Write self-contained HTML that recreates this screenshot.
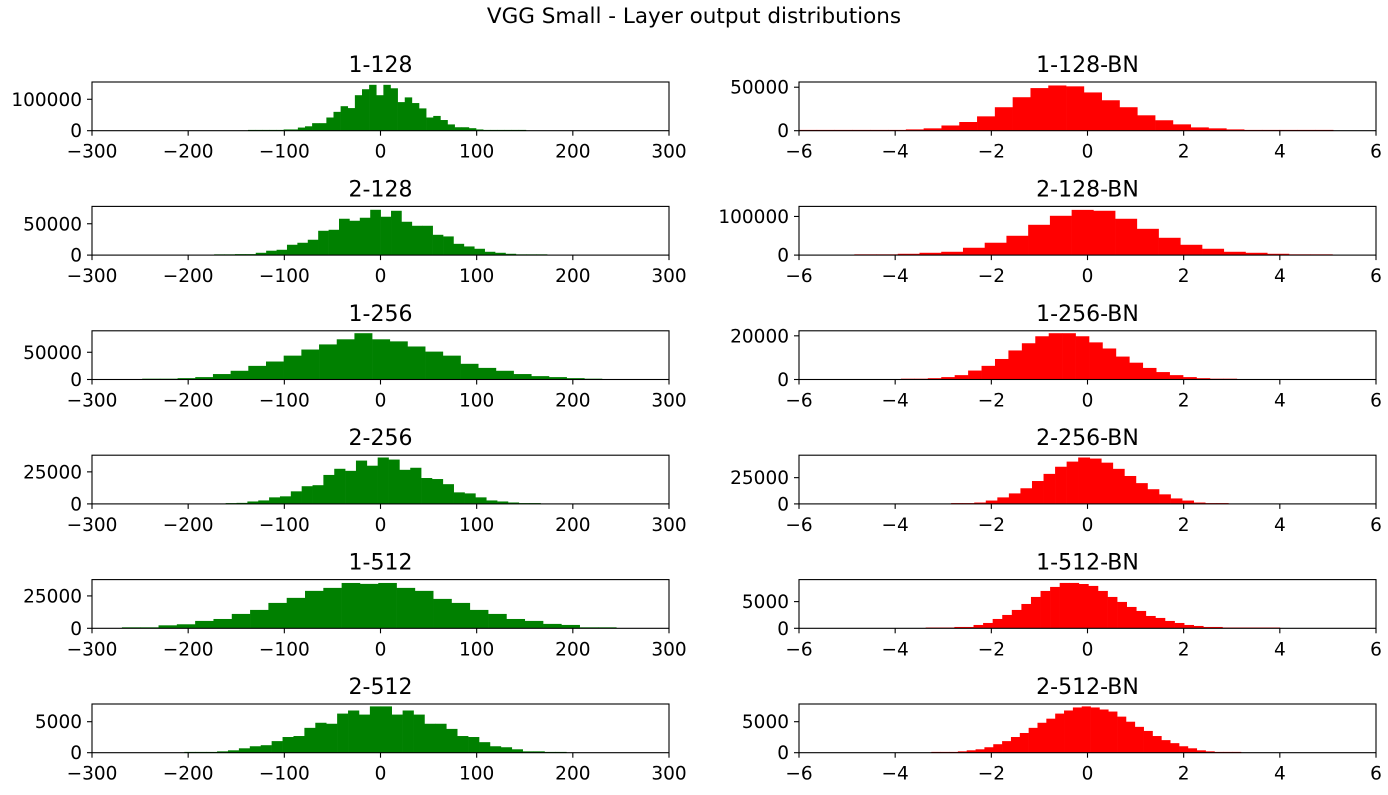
<!DOCTYPE html>
<html><head><meta charset="utf-8">
<style>
body{margin:0;background:#fff;}
svg text{font-family:"DejaVu Sans","Liberation Sans",sans-serif;fill:#000;}
</style></head>
<body>
<svg id="fig" width="1388" height="790" viewBox="0 0 1388 790" xmlns="http://www.w3.org/2000/svg">
<rect width="1388" height="790" fill="#fff"/>
<text x="694" y="23" text-anchor="middle" font-size="21.5">VGG Small - Layer output distributions</text>
</svg>
<script>
// ---- data ----
const panelTitles = ["1-128","1-128-BN","2-128","2-128-BN","1-256","1-256-BN","2-256","2-256-BN","1-512","1-512-BN","2-512","2-512-BN"];
const binStarts = [-137.8,-6.0,-173,-4.85,-247.8,-3.88,-161,-2.836,-268.9,-3.366,-204,-3.248];
const binWidths = [7.41,0.3703,10.82,0.452,18.39,0.2794,11.29,0.2402,19.04,0.1991,11.35,0.184];
const yMaxes = [155000,56000,77700,126000,89400,22300,38000,46400,37600,9125,7857,7857];
const yTickVals = [100000,50000,50000,100000,50000,20000,25000,25000,25000,5000,5000,5000];
const xTicksLeft = [-300,-200,-100,0,100,200,300];
const xTicksRight = [-6,-4,-2,0,2,4,6];
const counts1 = [500,600,700,900,1200,4000,4000,10000,14000,24000,24000,42000,60000,78000,72000,113000,132000,146000,113000,146000,135000,91000,106000,88000,71000,42000,47000,34000,20000,11000,11000,8000,4000,1500,1000,800,600,500,400];
const counts2 = [300,300,400,500,600,800,1500,2700,6000,10000,16500,27000,38500,49000,52000,51000,44000,35000,27000,17700,12000,7300,3800,2700,1500,600,500,400,300,300];
const counts3 = [500,500,1600,1600,3700,7000,8500,16500,19700,24500,38800,40400,58000,54800,59600,72300,61200,70700,53200,46800,46800,32400,29800,18000,13800,10100,5300,3700,2100,600,400,300];
const counts4 = [800,800,3400,6000,8600,19000,32000,50000,78400,101700,117000,114700,94000,68000,44800,26700,16400,8600,6000,3400,1000,600];
const counts5 = [600,600,2500,4400,10000,16000,25000,33000,43800,55000,64400,73800,85000,73800,70000,60600,51200,43800,28800,21300,16000,10000,6200,4400,2500,600];
const counts6 = [150,150,600,1100,2000,4100,6250,9400,13300,16600,19800,21200,21200,19800,17000,14200,10500,7700,5300,3400,2000,1100,600,150,150];
const counts7 = [250,800,1900,2700,5100,5900,9800,13800,14600,22600,27400,25800,33800,29800,36200,34600,26600,28200,20200,19400,15400,9000,8200,5100,2700,1900,1100,250,250];
const counts8 = [300,300,1300,3200,6200,10000,14900,21800,28600,35400,40300,44200,43200,39300,33400,26600,19800,14000,9100,5200,3200,1300,300,300];
const counts9 = [770,770,2300,3100,5700,7200,11100,14200,19600,23500,28900,31200,35000,34300,35000,31200,28900,22700,19600,14200,11100,7200,5700,3400,2600,770,770];
const counts10 = [60,60,60,250,250,625,1000,1750,2500,3440,4560,5875,7000,7750,8500,8500,8300,7940,7000,5875,4940,4000,3250,2310,1940,1375,1000,625,440,250,250,60,60,60,60,60,60];
const counts11 = [55,55,55,220,385,710,1040,1210,1870,2530,2690,4010,4830,4670,6310,6810,6150,7470,7470,6150,6810,6150,4670,4670,3840,2690,2530,1700,1040,880,550,220,220,55,55];
const counts12 = [55,55,55,220,385,550,880,1370,1870,2530,3180,4010,4830,5490,6310,6810,7300,7470,7300,6970,6640,5820,5000,4170,3510,2690,2030,1540,1040,710,385,220,55,55,55];
const allCounts = [counts1,counts2,counts3,counts4,counts5,counts6,counts7,counts8,counts9,counts10,counts11,counts12];

// ---- drawing ----
const NS = "http://www.w3.org/2000/svg";
const svg = document.getElementById("fig");
function mk(tag, attrs, parent){
  const e = document.createElementNS(NS, tag);
  for (const k in attrs) e.setAttribute(k, attrs[k]);
  (parent||svg).appendChild(e);
  return e;
}
function fmt(v){ return v < 0 ? "\u2212" + Math.abs(v) : String(v); }

for (let p = 0; p < 12; p++) {
  const col = p % 2, row = Math.floor(p / 2);
  const L = col === 0 ? 92 : 799, W = 577;
  const T = 82 + row * 124.4, H = 48.7, B = T + H;
  const xMin = col === 0 ? -300 : -6, xMax = -xMin;
  const xs = v => L + (v - xMin) / (xMax - xMin) * W;
  const ys = v => B - v / yMaxes[p] * H;
  const g = mk("g", {});
  
  
  const color = col === 0 ? "#008000" : "#ff0000";
  const cnt = allCounts[p];
  for (let i = 0; i < cnt.length; i++) {
    const x0 = xs(binStarts[p] + i * binWidths[p]);
    const x1 = xs(binStarts[p] + (i + 1) * binWidths[p]);
    const y = Math.min(ys(cnt[i]), B - 0.8);
    const r = mk("rect", {x: x0, y: y, width: Math.max(0, x1 - x0 + 0.3), height: B - y, fill: color}, g);
    
    
  }
  const frame = mk("rect", {x: L, y: T, width: W, height: H, fill: "none", stroke: "#000", "stroke-width": 1.1}, g);
  
  
  const title = mk("text", {x: L + W / 2, y: T - 10, "text-anchor": "middle", "font-size": 22}, g);
  title.textContent = panelTitles[p];
  
  
  const xt = col === 0 ? xTicksLeft : xTicksRight;
  for (const v of xt) {
    const x = xs(v);
    mk("line", {x1: x, x2: x, y1: B, y2: B + 5, stroke: "#000", "stroke-width": 1.1}, g);
    const t = mk("text", {x: x, y: B + 27, "text-anchor": "middle", "font-size": 18.5}, g);
    t.textContent = fmt(v);
    
    
  }
  for (const v of [0, yTickVals[p]]) {
    const y = ys(v);
    mk("line", {x1: L - 5, x2: L, y1: y, y2: y, stroke: "#000", "stroke-width": 1.1}, g);
    const t = mk("text", {x: L - 10, y: y + 6.5, "text-anchor": "end", "font-size": 18.5}, g);
    t.textContent = String(v);
    
    
  }
}
</script>
</body></html>
